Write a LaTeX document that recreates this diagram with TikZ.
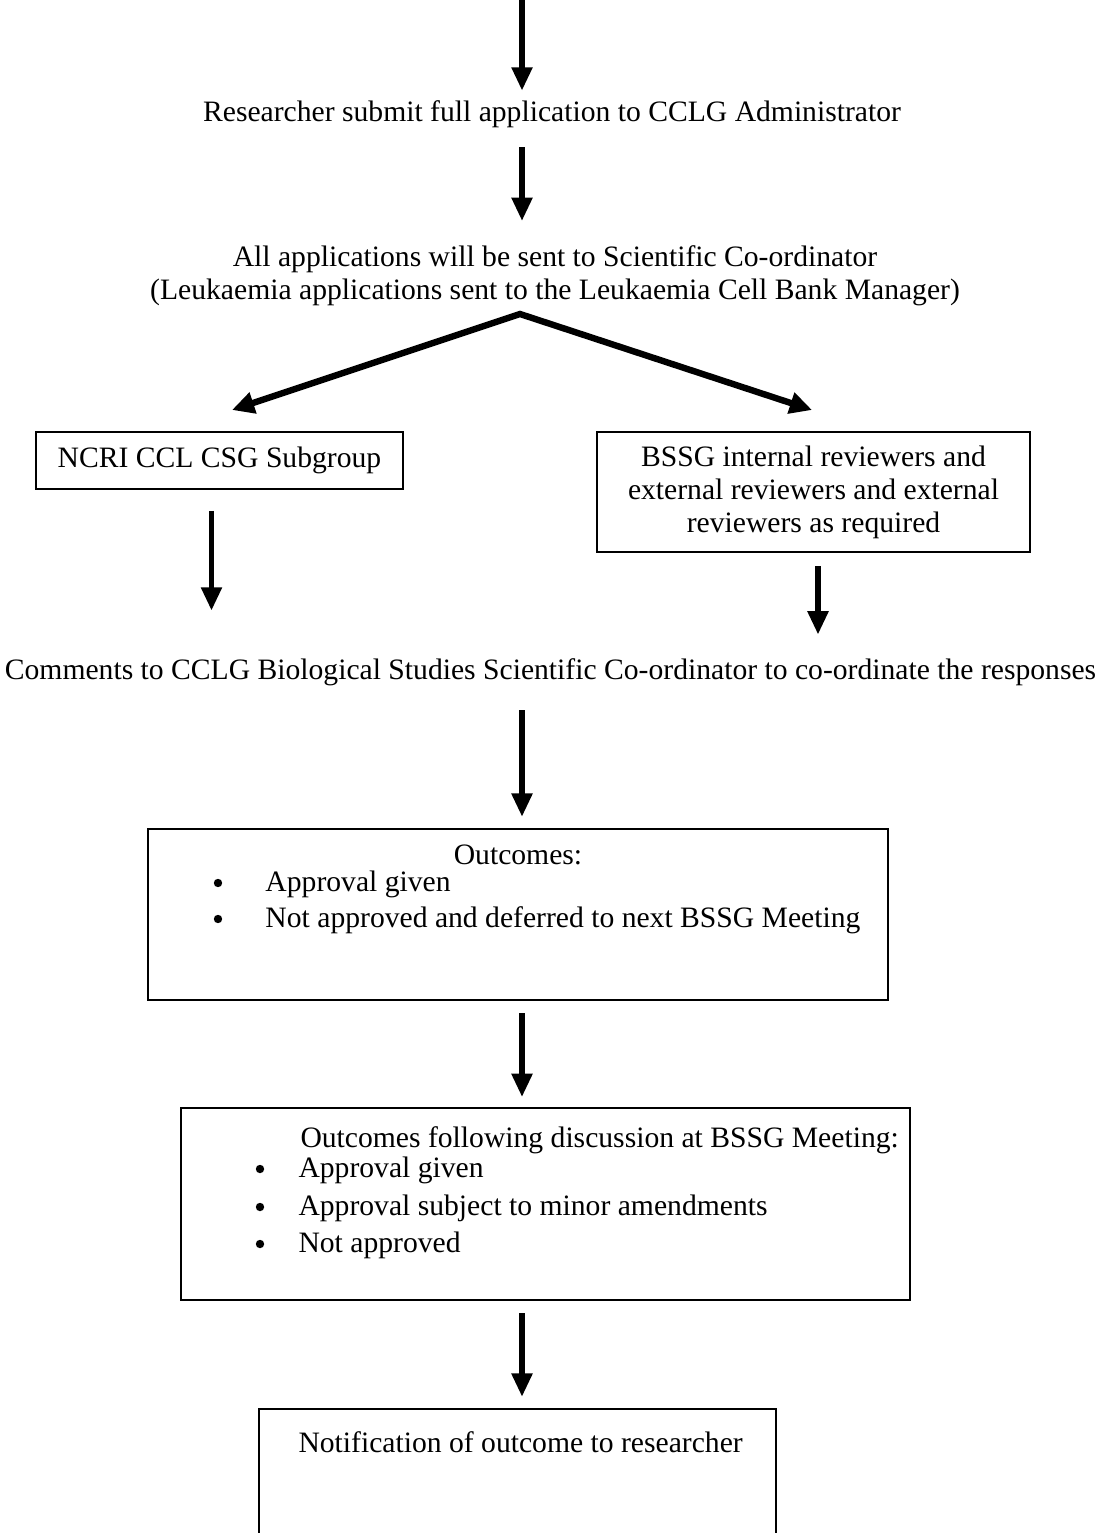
\documentclass[tikz,border=0pt]{standalone}
\usepackage{fontspec}
\setmainfont{Liberation Serif}
\usetikzlibrary{arrows.meta}

\newdimen\pxu
\pxu=0.405pt

\tikzset{
  flowbox/.style={draw, line width=0.8pt, inner sep=0pt, align=center},
  flowtext/.style={inner sep=0pt, align=center},
  itemtext/.style={inner sep=0pt, anchor=base west},
  bulletdot/.style={circle, fill, inner sep=0pt, minimum size=3.4pt},
  flowarrow/.style={line width=2.4pt, -{Triangle[width=8pt,length=9.5pt]}},
  forkarrow/.style={line width=2.6pt, {Triangle[width=8.5pt,length=9pt]}-{Triangle[width=8.5pt,length=9pt]}}
}

\begin{document}
\begin{tikzpicture}[x=\pxu, y=-\pxu, font=\fontsize{12}{13.4}\selectfont]
\useasboundingbox (0,0) rectangle (1099,1533);
\clip (0,0) rectangle (1099,1533);

% submission
\coordinate (start) at (522,0);
\node[flowtext, anchor=base] (submit) at (552,122) {Researcher submit full application to CCLG Administrator};
\node[flowtext] (sent) at (555,275.7) {All applications will be sent to Scientific Co-ordinator\\(Leukaemia applications sent to the Leukaemia Cell Bank Manager)};

% two review routes
\coordinate (fork) at (520,314);
\coordinate (forkL) at (232,410);
\coordinate (forkR) at (812,410);
\node[flowbox, minimum width=367\pxu, minimum height=57\pxu] (ncri) at (219.5,460.5) {NCRI CCL CSG Subgroup};
\node[flowbox, minimum width=433\pxu, minimum height=120\pxu] (bssg) at (813.5,492) {BSSG internal reviewers and\\external reviewers and external\\reviewers as required};

\node[flowtext, anchor=base] (comments) at (550.5,679) {Comments to CCLG Biological Studies Scientific Co-ordinator to co-ordinate the responses};

% first outcomes
\node[flowbox, minimum width=740\pxu, minimum height=171\pxu] (outA) at (518,914.5) {};
\node[flowtext, anchor=base] (outAhead) at (518,864) {Outcomes:};
\node[bulletdot] (outAdot1) at (218,883) {};
\node[itemtext] (outA1) at (265,891) {Approval given};
\node[bulletdot] (outAdot2) at (218,919) {};
\node[itemtext] (outA2) at (265,927) {Not approved and deferred to next BSSG Meeting};

% outcomes after meeting
\node[flowbox, minimum width=729\pxu, minimum height=192\pxu] (outB) at (545.5,1204) {};
\node[itemtext] (outBhead) at (300,1147) {Outcomes following discussion at BSSG Meeting:};
\node[bulletdot] (outBdot1) at (260,1169) {};
\node[itemtext] (outB1) at (298,1177) {Approval given};
\node[bulletdot] (outBdot2) at (260,1207) {};
\node[itemtext] (outB2) at (298,1215) {Approval subject to minor amendments};
\node[bulletdot] (outBdot3) at (260,1244) {};
\node[itemtext] (outB3) at (298,1252) {Not approved};

% notification
\node[flowbox, minimum width=517\pxu, minimum height=151\pxu] (notify) at (517.5,1484.5) {};
\node[itemtext] (notifytext) at (298,1452) {Notification of outcome to researcher};

% arrows
\draw[flowarrow, shorten >=4pt] (start) -- (submit.north -| start);
\draw[flowarrow, shorten <=7.5pt, shorten >=9.7pt] (submit.south -| start) -- (sent.north -| start);
\draw[forkarrow] (forkL) -- (fork) -- (forkR);
\draw[flowarrow, shorten <=8.5pt, shorten >=19pt] ([xshift=-8\pxu]ncri.south) -- ([xshift=-8\pxu]ncri.south |- comments.north);
\draw[flowarrow, shorten <=5.3pt, shorten >=9.3pt] ([xshift=4.5\pxu]bssg.south) -- ([xshift=4.5\pxu]bssg.south |- comments.north);
\draw[flowarrow, shorten <=9.9pt, shorten >=4.5pt] (comments.south -| start) -- (outA.north -| start);
\draw[flowarrow, shorten <=4.9pt, shorten >=4pt] (outA.south -| start) -- (outB.north -| start);
\draw[flowarrow, shorten <=4.9pt, shorten >=4.5pt] (outB.south -| start) -- (notify.north -| start);
\end{tikzpicture}
\end{document}
